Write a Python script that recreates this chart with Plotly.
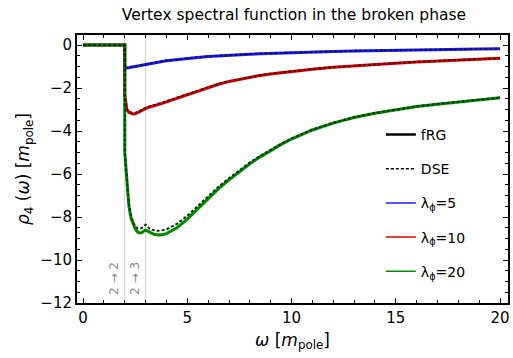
import plotly.graph_objects as go

omega = [0, 2.0, 2.001, 2.05, 2.1, 2.2, 2.3, 2.4, 2.5, 2.6, 2.7, 2.8, 2.9, 3.0, 3.1, 3.2, 3.4, 3.6, 3.8, 4.0,
         4.5, 5, 5.5, 6, 6.5, 7, 7.5, 8, 8.5, 9, 9.5, 10, 11, 12, 13, 14, 15, 16, 17, 18, 19, 20]

frg_5 = [0, 0, -1.07, -1.07, -1.06, -1.05, -1.03, -1.01, -0.99, -0.97, -0.95, -0.93, -0.91, -0.89, -0.87, -0.85,
         -0.82, -0.79, -0.76, -0.73, -0.67, -0.62, -0.575, -0.535, -0.50, -0.47, -0.445, -0.42, -0.40, -0.38,
         -0.365, -0.35, -0.32, -0.295, -0.272, -0.252, -0.235, -0.22, -0.206, -0.195, -0.185, -0.175]
dse_5 = [0, 0, -1.06, -1.06, -1.05, -1.04, -1.02, -1.00, -0.98, -0.96, -0.94, -0.92, -0.90, -0.88, -0.86, -0.84,
         -0.81, -0.78, -0.75, -0.72, -0.66, -0.61, -0.567, -0.528, -0.494, -0.465, -0.44, -0.415, -0.395, -0.376,
         -0.36, -0.345, -0.316, -0.291, -0.268, -0.248, -0.232, -0.217, -0.203, -0.192, -0.182, -0.172]

frg_10 = [0, 0, -2.3, -2.8, -3.0, -3.13, -3.18, -3.2, -3.19, -3.16, -3.11, -3.05, -2.99, -2.94, -2.91, -2.88,
          -2.83, -2.77, -2.71, -2.64, -2.47, -2.3, -2.13, -1.97, -1.82, -1.69, -1.585, -1.49, -1.41, -1.34,
          -1.28, -1.22, -1.12, -1.035, -0.96, -0.895, -0.84, -0.785, -0.74, -0.69, -0.65, -0.61]
dse_10 = [0, 0, -2.3, -2.78, -2.97, -3.1, -3.15, -3.17, -3.16, -3.13, -3.08, -3.02, -2.96, -2.9, -2.88, -2.85,
          -2.8, -2.74, -2.68, -2.61, -2.45, -2.28, -2.11, -1.955, -1.81, -1.68, -1.575, -1.48, -1.40, -1.33,
          -1.27, -1.21, -1.11, -1.028, -0.955, -0.89, -0.835, -0.78, -0.735, -0.686, -0.646, -0.606]

frg_20 = [0, 0, -5.0, -5.6, -6.3, -7.5, -8.05, -8.35, -8.55, -8.68, -8.74, -8.73, -8.68, -8.6, -8.66, -8.72,
          -8.8, -8.83, -8.82, -8.77, -8.5, -8.1, -7.62, -7.13, -6.68, -6.27, -5.88, -5.52, -5.2, -4.9,
          -4.62, -4.37, -3.95, -3.63, -3.37, -3.17, -3.0, -2.86, -2.75, -2.64, -2.54, -2.45]
dse_20 = [0, 0, -5.0, -5.6, -6.2, -7.4, -7.95, -8.25, -8.42, -8.52, -8.55, -8.52, -8.45, -8.35, -8.45, -8.55,
          -8.62, -8.64, -8.62, -8.57, -8.32, -7.94, -7.49, -7.02, -6.59, -6.19, -5.81, -5.46, -5.15, -4.86,
          -4.59, -4.34, -3.93, -3.61, -3.355, -3.16, -2.99, -2.85, -2.74, -2.63, -2.53, -2.44]

lambdas = ["5", "10", "20"]
colors = ["#1a1aff", "#dd0000", "#008a00"]
dark_colors = ["#10106a", "#5a0000", "#003800"]
frg_series = [frg_5, frg_10, frg_20]
dse_series = [dse_5, dse_10, dse_20]

thresholds = [2, 3]
threshold_labels = ["2 → 2", "2 → 3"]

fig = go.Figure()

for frg, c in zip(frg_series, colors):
    fig.add_trace(go.Scatter(x=omega, y=frg, mode="lines", line=dict(color=c, width=3),
                             showlegend=False, hoverinfo="skip"))
for dse, c in zip(dse_series, dark_colors):
    fig.add_trace(go.Scatter(x=omega, y=dse, mode="lines", line=dict(color=c, width=2, dash="3px,2px"),
                             showlegend=False, hoverinfo="skip"))

# legend entries
fig.add_trace(go.Scatter(x=[None], y=[None], mode="lines", name="fRG",
                         line=dict(color="black", width=2.5), legendgroup="a"))
fig.add_trace(go.Scatter(x=[None], y=[None], mode="lines", name="DSE",
                         line=dict(color="black", width=1.5, dash="3px,2px"), legendgroup="b"))
for lam, c, g in zip(lambdas, colors, ["c", "d", "e"]):
    fig.add_trace(go.Scatter(x=[None], y=[None], mode="lines", name=f"λ<sub>ϕ</sub>={lam}",
                             line=dict(color=c, width=1.5), legendgroup=g))

for t, lab in zip(thresholds, threshold_labels):
    fig.add_vline(x=t, line=dict(color="#cfcfcf", width=1), layer="below")
    fig.add_annotation(x=t, y=-10.85, xref="x", yref="y", text=lab, textangle=-90, showarrow=False,
                       xanchor="right", yanchor="middle", xshift=-1,
                       font=dict(family="DejaVu Sans", size=12, color="#8c8c8c"))

axis_common = dict(showline=True, linecolor="black", linewidth=2, mirror="allticks", ticks="inside",
                   tickcolor="black", ticklen=5, tickwidth=1.2, showgrid=False, zeroline=False,
                   tickfont=dict(family="DejaVu Sans", size=15, color="black"))

fig.update_xaxes(range=[-0.29, 20.38], tickvals=[0, 5, 10, 15, 20],
                 minor=dict(ticks="inside", dtick=1, tick0=0, ticklen=3, tickcolor="black", showgrid=False),
                 title=dict(text="<i>ω</i> [<i>m</i><sub>pole</sub>]",
                            font=dict(family="DejaVu Sans", size=17, color="black"), standoff=8),
                 **axis_common)
fig.update_yaxes(range=[-12, 0.47], tickvals=[0, -2, -4, -6, -8, -10, -12],
                 ticktext=["0", "−2", "−4", "−6", "−8", "−10", "−12"],
                 minor=dict(ticks="inside", dtick=0.5, tick0=0, ticklen=3, tickcolor="black", showgrid=False),
                 title=dict(text="<i>ρ</i><sub>4</sub> (<i>ω</i>) [<i>m</i><sub>pole</sub>]",
                            font=dict(family="DejaVu Sans", size=17, color="black"), standoff=6),
                 **axis_common)

fig.update_layout(
    width=513, height=358,
    margin=dict(l=77, r=3, t=35, b=55),
    paper_bgcolor="white", plot_bgcolor="white",
    title=dict(text="Vertex spectral function in the broken phase", x=0.573, xanchor="center", y=0.96,
               yanchor="middle", font=dict(family="DejaVu Sans", size=15.5, color="black")),
    legend=dict(x=0.705, y=0.687, xanchor="left", yanchor="top", bgcolor="rgba(0,0,0,0)",
                font=dict(family="DejaVu Sans", size=14, color="black"), tracegroupgap=13,
                itemwidth=30),
    showlegend=True,
)

fig.write_html("out.html")
